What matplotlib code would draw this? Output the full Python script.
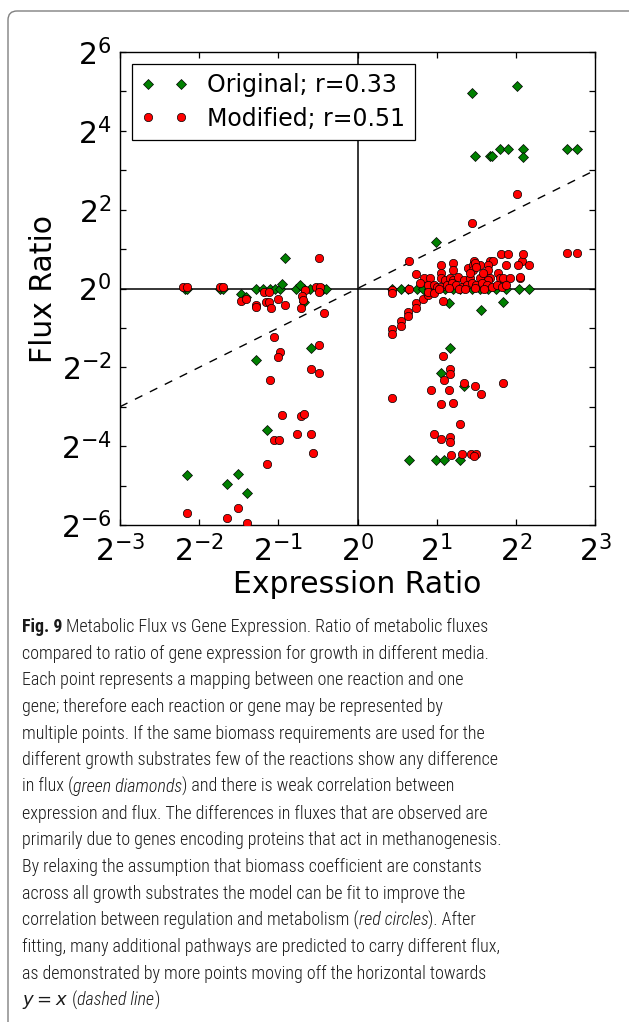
import numpy as np
import matplotlib
matplotlib.use("Agg")
from matplotlib import pyplot as plt
from matplotlib import font_manager as fm
from matplotlib.patches import FancyBboxPatch
from matplotlib.transforms import IdentityTransform
from matplotlib.ticker import FixedLocator, FuncFormatter, NullLocator

# log2 values
orig_expr = [-2.18, -2.16, -1.74, -1.70, -1.28, -1.19, -1.10, -1.04, -0.98, -0.78,
             -0.68, -0.60, -0.43, -0.40, -0.96, -0.73, -1.47, -1.41, -0.91, -0.68,
             -0.59, -1.28, -1.14, -2.16, -1.51, -1.65, -1.40,
             0.43, 0.55, 0.64, 0.75, 0.83, 0.90, 1.00, 1.10, 1.20, 1.30, 1.45, 1.55,
             1.65, 1.75, 1.88, 2.04, 2.17,
             0.99, 1.16, 1.56, 1.84, 1.17, 1.06, 1.34, 0.65, 0.99, 1.09, 1.29,
             1.44, 2.01, 1.48, 1.67, 1.70, 1.80, 1.90, 2.09, 2.09, 2.64, 2.77]
orig_flux = [0.0, 0.0, 0.0, 0.0, 0.0, 0.0, 0.0, 0.0, 0.0, 0.0,
             0.0, 0.0, 0.0, 0.0, 0.11, 0.09, -0.15, -0.22, 0.78, -0.33,
             -1.52, -1.81, -3.59, -4.73, -4.71, -4.96, -5.20,
             0.0, 0.0, 0.0, 0.0, 0.0, 0.0, 0.0, 0.0, 0.0, 0.0, 0.0, 0.0,
             0.0, 0.0, 0.0, 0.0, 0.0,
             1.19, -0.36, -0.55, -0.33, -1.52, -2.14, -2.47, -4.34, -4.34, -4.34, -4.34,
             4.95, 5.14, 3.35, 3.35, 3.35, 3.53, 3.53, 3.53, 3.34, 3.53, 3.53]

mod_expr = [-2.20, -2.16, -1.74, -1.70, -1.47, -1.41, -1.28, -1.28, -1.18, -1.12,
            -1.15, -1.12, -1.01, -1.09, -0.91, -0.66, -0.70, -0.69, -0.71, -0.52,
            -0.47, -0.49, -0.42, -0.49,
            -1.05, -0.49, -0.98, -1.01, -0.59, -0.49, -1.10, -0.95, -0.72, -0.68,
            -1.05, -0.99, -0.77, -0.59, -0.56, -1.14, -2.16, -1.51, -1.65, -1.40,
            0.43, 0.43, 0.65, 0.43, 0.44, 0.55, 0.55, 0.64, 0.64, 0.74, 0.74, 0.83,
            0.89, 1.08,
            0.65, 0.74, 0.84, 0.92, 0.79, 1.06, 1.20, 1.44, 2.01,
            1.47, 1.67, 1.71, 2.08, 2.17, 1.87, 2.03, 1.21, 1.40, 1.46, 1.55, 1.65,
            1.81, 1.90, 2.09, 2.64, 2.77,
            1.46, 1.65, 1.78, 1.80, 1.84, 1.93, 2.05, 1.67, 1.55,
            1.06, 1.06, 1.10, 1.17, 1.21, 1.27, 1.34, 1.42, 1.48, 1.50, 1.42, 1.59, 1.65,
            0.89, 0.96, 1.00, 1.06, 1.13, 1.19, 1.25, 1.32, 1.38, 1.44, 1.50, 1.57,
            1.63, 1.70, 1.76, 1.82, 1.88, 0.89, 0.96, 1.03, 1.15, 1.28, 1.36, 1.48, 1.60,
            2.05,
            1.08, 1.17, 1.17, 1.09, 1.34, 1.49, 1.56, 1.84, 0.93, 1.16, 0.43, 1.06,
            1.21, 1.30, 0.96, 1.06, 1.17, 1.17, 1.18, 1.32, 1.43, 1.50, 1.47]
mod_flux = [0.03, 0.03, 0.03, 0.03, -0.32, -0.27, -0.42, -0.47, -0.10, -0.10,
            -0.33, -0.33, -0.27, -0.50, -0.42, -0.05, -0.19, -0.29, -0.49, 0.05,
            0.05, -0.10, -0.61, 0.77,
            -1.22, -1.43, -1.62, -1.73, -2.05, -2.14, -2.31, -3.21, -3.24, -3.19,
            -3.85, -3.85, -3.68, -3.68, -4.18, -4.45, -5.70, -5.56, -5.83, -5.96,
            -0.04, -0.12, 0.0, -1.04, -1.15, -0.82, -0.94, -0.60, -0.71, -0.38, -0.50, -0.27,
            -0.17, -0.31,
            0.71, 0.37, 0.27, 0.27, 0.15, 0.60, 0.65, 1.65, 2.40,
            0.71, 0.71, 0.71, 0.71, 0.60, 0.60, 0.60, 0.47, 0.51, 0.60, 0.60, 0.60,
            0.88, 0.88, 0.88, 0.89, 0.89,
            0.47, 0.47, 0.39, 0.26, 0.26, 0.26, 0.27, 0.26, 0.26,
            0.39, 0.26, 0.22, 0.26, 0.22, 0.30, 0.22, 0.26, 0.64, 0.55, 0.39, 0.39, 0.22,
            0.09, 0.09, 0.05, 0.05, 0.09, 0.13, 0.09, 0.05, 0.09, 0.13, 0.09, 0.13,
            0.09, 0.05, 0.09, 0.05, 0.09, -0.08, -0.12, 0.0, 0.02, 0.0, -0.02, 0.02, 0.0,
            0.28,
            -1.71, -2.04, -2.17, -2.32, -2.41, -2.48, -2.67, -2.41, -2.57, -2.58, -2.79, -2.94,
            -2.90, -3.45, -3.68, -3.82, -3.76, -3.90, -4.23, -4.20, -4.20, -4.20, -4.25]

x_exps = list(range(-3, 4))
y_exps = list(range(-6, 7))
legend_labels = ["Original; r=0.33", "Modified; r=0.51"]

caption_lines = [
    [("Fig. 9", "bold"), (" Metabolic Flux vs Gene Expression. Ratio of metabolic fluxes", "normal")],
    [("compared to ratio of gene expression for growth in different media.", "normal")],
    [("Each point represents a mapping between one reaction and one", "normal")],
    [("gene; therefore each reaction or gene may be represented by", "normal")],
    [("multiple points. If the same biomass requirements are used for the", "normal")],
    [("different growth substrates few of the reactions show any difference", "normal")],
    [("in flux (", "normal"), ("green diamonds", "italic"), (") and there is weak correlation between", "normal")],
    [("expression and flux. The differences in fluxes that are observed are", "normal")],
    [("primarily due to genes encoding proteins that act in methanogenesis.", "normal")],
    [("By relaxing the assumption that biomass coefficient are constants", "normal")],
    [("across all growth substrates the model can be fit to improve the", "normal")],
    [("correlation between regulation and metabolism (", "normal"), ("red circles", "italic"), ("). After", "normal")],
    [("fitting, many additional pathways are predicted to carry different flux,", "normal")],
    [("as demonstrated by more points moving off the horizontal towards", "normal")],
    [("$y = x$", "math"), (" (", "normal"), ("dashed line", "italic"), (")", "normal")],
]

W, H, DPI = 629, 1022, 100
fig = plt.figure(figsize=(W / DPI, H / DPI), dpi=DPI)
plt.rcParams["mathtext.fontset"] = "dejavusans"

ax = fig.add_axes([120 / W, 1 - 525 / H, 475 / W, 473 / H])
ax.set_xscale("log", base=2)
ax.set_yscale("log", base=2)
ax.set_xlim(2.0 ** -3, 2.0 ** 3)
ax.set_ylim(2.0 ** -6, 2.0 ** 6)

ax.axhline(1, color="black", lw=1.1, zorder=1)
ax.axvline(1, color="black", lw=1.1, zorder=1)
diag = np.array([2.0 ** -3, 2.0 ** 3])
ax.plot(diag, diag, color="black", lw=1.0, dashes=(6, 6), zorder=1)

ax.plot(np.power(2.0, orig_expr), np.power(2.0, orig_flux), "D", color=(0, 0.5, 0),
        mec="black", mew=0.5, ms=5.4, ls="none", label=legend_labels[0], zorder=3)
ax.plot(np.power(2.0, mod_expr), np.power(2.0, mod_flux), "o", color="red",
        mec="black", mew=0.5, ms=6.0, ls="none", label=legend_labels[1], zorder=4)

ax.xaxis.set_major_locator(FixedLocator([2.0 ** e for e in x_exps]))
ax.yaxis.set_major_locator(FixedLocator([2.0 ** e for e in y_exps]))
ax.xaxis.set_minor_locator(NullLocator())
ax.yaxis.set_minor_locator(NullLocator())
ax.xaxis.set_major_formatter(FuncFormatter(lambda v, p: r"$\mathdefault{2^{%d}}$" % round(np.log2(v))))
ax.yaxis.set_major_formatter(FuncFormatter(
    lambda v, p: r"$\mathdefault{2^{%d}}$" % round(np.log2(v)) if round(np.log2(v)) % 2 == 0 else ""))
ax.tick_params(direction="in", top=True, right=True, length=4, width=0.9,
               labelsize=21.5)
ax.tick_params(axis="x", pad=7)
ax.tick_params(axis="y", pad=6)
for s in ax.spines.values():
    s.set_linewidth(1.0)

ax.set_xlabel("Expression Ratio", fontsize=21.5, labelpad=2)
ax.set_ylabel("Flux Ratio", fontsize=21.5, labelpad=2)

leg = ax.legend(loc="upper left", numpoints=2, fontsize=17, handlelength=2.0,
                fancybox=False, framealpha=1, edgecolor="black", borderpad=0.4,
                handletextpad=0.8, labelspacing=0.4, borderaxespad=0.5)
leg.get_frame().set_linewidth(0.9)

# figure frame (rounded, runs off the right and bottom edges)
frame = FancyBboxPatch((8, -30), 700, H - 11 + 30, boxstyle="round,pad=0,rounding_size=9",
                       transform=IdentityTransform(), fill=False, edgecolor="#808080", lw=1.0)
fig.add_artist(frame)

# caption
names = {f.name for f in fm.fontManager.ttflist}
cap_font = "Lato"
for cand in ["Liberation Sans Narrow", "Roboto Condensed", "Open Sans Condensed", "Lato"]:
    if cand in names:
        cap_font = cand
        break
renderer = fig.canvas.get_renderer()

def draw_line(segs, y, size, measure_only=False):
    x = 22
    arts = []
    for txt, style in segs:
        kw = dict(fontsize=size, family=cap_font, va="baseline", ha="left",
                  transform=IdentityTransform(), color="#1a1a1a", weight="light")
        if style == "bold":
            kw["weight"] = "bold"
        elif style == "italic":
            kw["style"] = "italic"
        t = fig.text(x, y, txt, **kw)
        bb = t.get_window_extent(renderer)
        x += bb.width
        arts.append(t)
    if measure_only:
        for t in arts:
            t.remove()
    return x - 22

w0 = draw_line(caption_lines[0], 0, 14, measure_only=True)
cap_size = 14 * 468 / w0
for i, segs in enumerate(caption_lines):
    draw_line(segs, H - 632 - i * 26.67, cap_size)

fig.savefig("out.png", dpi=DPI)
